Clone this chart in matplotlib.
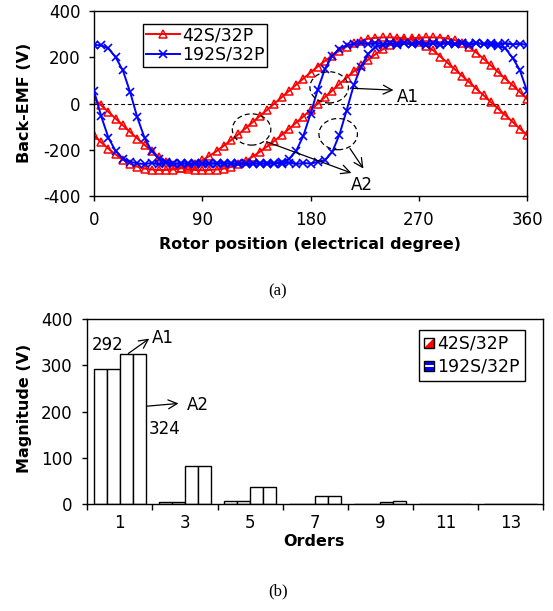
import numpy as np
import matplotlib
matplotlib.use("Agg")
import matplotlib.pyplot as plt
from matplotlib.patches import Ellipse, Rectangle, Polygon
from matplotlib.legend_handler import HandlerBase

plt.rcParams['font.family'] = ['DejaVu Sans']
plt.rcParams['axes.unicode_minus'] = False

# ---------------- data (a) ----------------
angle_deg = list(range(0, 361, 6))
emf_42_a = [21, -8, -36, -65, -94, -123, -151, -179, -206, -230, -251, -267, -278, -284, -287, -288,
            -287, -285, -281, -274, -263, -248, -229, -208, -185, -161, -136, -110, -83, -56, -28, 0,
            28, 56, 84, 112, 139, 165, 190, 213, 234, 252, 266, 276, 282, 285, 286, 286, 285, 281,
            274, 261, 243, 220, 193, 165, 136, 107, 79, 50, 21]
emf_42_b = [-138, -168, -195, -220, -242, -260, -273, -281, -285, -287, -287, -285, -280, -272, -260, -245,
            -226, -205, -182, -158, -133, -107, -80, -53, -27, 0, 27, 54, 81, 108, 134, 160,
            184, 207, 228, 246, 261, 272, 280, 284, 286, 286, 285, 282, 276, 266, 250, 230, 203, 176,
            148, 120, 92, 63, 35, 6, -22, -50, -79, -108, -136]
emf_192_a = [253, 252, 238, 200, 143, 50, -60, -148, -205, -238, -252, -258, -262, -256, -263, -256,
             -262, -255, -262, -256, -263, -256, -262, -256, -263, -256, -262, -255, -262, -256, -260, -252,
             -244, -210, -135, -30, 80, 160, 215, 243, 255, 260, 256, 263, 256, 262, 255, 262, 256, 263,
             256, 262, 255, 262, 256, 263, 256, 262, 255, 259, 253]
emf_192_b = [55, -55, -148, -205, -238, -252, -258, -262, -256, -263, -256, -262, -255, -262, -256, -263,
             -256, -262, -255, -262, -256, -263, -256, -262, -255, -260, -252, -240, -205, -140, -45, 60,
             150, 205, 237, 252, 257, 262, 256, 263, 256, 262, 255, 262, 256, 263, 256, 262, 255, 262,
             256, 263, 256, 262, 258, 255, 250, 238, 198, 145, 55]
x_ticks_a = [0, 90, 180, 270, 360]
y_ticks_a = [-400, -200, 0, 200, 400]

# ---------------- data (b) ----------------
orders = [1, 3, 5, 7, 9, 11, 13]
mag_42_1 = [292, 4, 8, 1, 0.5, 0.3, 0.5]
mag_42_2 = [292, 6, 8, 1, 0.5, 0.3, 0.5]
mag_192_1 = [324, 83, 37, 17, 6, 0.3, 1.5]
mag_192_2 = [324, 83, 38, 19, 7, 0.3, 1.5]
y_ticks_b = [0, 100, 200, 300, 400]

TICK_FS = 12
LAB_FS = 11.5

fig = plt.figure(figsize=(5.53, 6.11), dpi=100)

# =============== (a) =================
ax1 = fig.add_axes([0.170, 0.679, 0.783, 0.303])
ax1.axhline(0, color='black', lw=0.8, ls=(0, (3.5, 2.5)), zorder=1)
l1, = ax1.plot(angle_deg, emf_42_a, color='red', marker='^', mfc='none', ms=6.2, mew=1.1, lw=1.4,
               label='42S/32P', zorder=2)
ax1.plot(angle_deg, emf_42_b, color='red', marker='^', mfc='none', ms=6.2, mew=1.1, lw=1.4, zorder=2)
l2, = ax1.plot(angle_deg, emf_192_a, color='blue', marker='x', ms=5.5, mew=1.2, lw=1.4,
               label='192S/32P', zorder=3)
ax1.plot(angle_deg, emf_192_b, color='blue', marker='x', ms=5.5, mew=1.2, lw=1.4, zorder=3)
ax1.set_xlim(0, 360)
ax1.set_ylim(-400, 400)
ax1.set_xticks(x_ticks_a)
ax1.set_yticks(y_ticks_a)
ax1.tick_params(direction='out', length=3.5, width=1, labelsize=TICK_FS)
ax1.tick_params(axis='y', pad=6)
ax1.tick_params(axis='x', pad=7)
for s in ax1.spines.values():
    s.set_linewidth(1.0)

for (cx, cy) in [(131, -112), (195.5, 70), (203, -132)]:
    ax1.add_patch(Ellipse((cx, cy), 32, 135, fill=False, edgecolor='black', lw=0.9,
                          ls=(0, (4, 2.5)), zorder=4))
arr = dict(arrowstyle='->', lw=0.9, color='black', mutation_scale=16, shrinkA=0, shrinkB=0)
ax1.annotate('', xy=(249, 58), xytext=(215, 66), arrowprops=arr)
ax1.annotate('', xy=(214, -300), xytext=(143.5, -165), arrowprops=arr)
ax1.annotate('', xy=(224, -281), xytext=(212.8, -194), arrowprops=arr)
ax1.text(252, 30, 'A1', fontsize=12, ha='left', va='center')
ax1.text(223, -352, 'A2', fontsize=12, ha='center', va='center')

leg1 = ax1.legend(handles=[l1, l2], loc='upper left', bbox_to_anchor=(0.113, 0.93),
                  borderaxespad=0, fancybox=False, edgecolor='black', framealpha=1,
                  fontsize=12.5, handlelength=2.0, handletextpad=0.1, labelspacing=0.08,
                  borderpad=0.15)
leg1.get_frame().set_linewidth(1.0)

fig.text(0.045, 1 - 103 / 611, 'Back-EMF (V)', rotation=90, fontsize=LAB_FS, fontweight='bold',
         ha='center', va='center')
fig.text(310 / 553, 1 - 245 / 611, 'Rotor position (electrical degree)', fontsize=LAB_FS,
         fontweight='bold', ha='center', va='center')
fig.text(278 / 553, 1 - 291 / 611, '(a)', fontsize=12, family='Liberation Serif',
         ha='center', va='center')

# =============== (b) =================
ax2 = fig.add_axes([0.158, 0.1746, 0.824, 0.303])
pos = np.arange(len(orders)) + 0.5
w = 0.2
for off, vals in zip([-0.3, -0.1, 0.1, 0.3], [mag_42_1, mag_42_2, mag_192_1, mag_192_2]):
    ax2.bar(pos + off, vals, width=w, facecolor='white', edgecolor='black', lw=1.0, zorder=2)
ax2.set_xlim(0, len(orders))
ax2.set_ylim(0, 400)
ax2.set_yticks(y_ticks_b)
ax2.set_xticks(np.arange(len(orders) + 1))
ax2.set_xticklabels([])
ax2.set_xticks(pos, minor=True)
ax2.set_xticklabels([str(o) for o in orders], minor=True)
ax2.tick_params(axis='x', which='major', direction='out', length=4, width=1)
ax2.tick_params(axis='x', which='minor', length=0, pad=7, labelsize=TICK_FS)
ax2.tick_params(axis='y', direction='out', length=3.5, width=1, pad=7, labelsize=TICK_FS)
for s in ax2.spines.values():
    s.set_linewidth(1.0)

arr2 = dict(arrowstyle='->', lw=0.9, color='black', mutation_scale=16, shrinkA=0, shrinkB=0)
ax2.annotate('', xy=(0.95, 358), xytext=(0.63, 326), arrowprops=arr2)
ax2.annotate('', xy=(1.40, 218), xytext=(0.913, 212), arrowprops=arr2)
ax2.text(0.31, 344, '292', fontsize=12, ha='center', va='center')
ax2.text(0.99, 360, 'A1', fontsize=12, ha='left', va='center')
ax2.text(1.53, 214, 'A2', fontsize=12, ha='left', va='center')
ax2.text(1.19, 162, '324', fontsize=12, ha='center', va='center')


class SquareHandler(HandlerBase):
    def __init__(self, kind):
        super().__init__()
        self.kind = kind

    def create_artists(self, legend, orig_handle, xdescent, ydescent, width, height, fontsize, trans):
        s = height * 0.95
        x0 = -xdescent + (width - s) / 2
        y0 = -ydescent + (height - s) / 2
        arts = []
        if self.kind == 'diag':
            arts.append(Rectangle((x0, y0), s, s, facecolor='white', edgecolor='none', transform=trans))
            arts.append(Polygon([[x0, y0], [x0 + s, y0], [x0 + s, y0 + s]], closed=True,
                                facecolor='red', edgecolor='none', transform=trans))
        else:
            arts.append(Rectangle((x0, y0), s, s, facecolor='blue', edgecolor='none', transform=trans))
            arts.append(Rectangle((x0, y0 + s * 0.38), s, s * 0.24, facecolor='white',
                                  edgecolor='none', transform=trans))
        arts.append(Rectangle((x0, y0), s, s, facecolor='none', edgecolor='black', lw=1.0,
                              transform=trans))
        return arts


h1 = Rectangle((0, 0), 1, 1)
h2 = Rectangle((0, 0), 1, 1)
leg2 = ax2.legend([h1, h2], ['42S/32P', '192S/32P'], loc='upper left',
                  bbox_to_anchor=(0.727, 0.944), borderaxespad=0, fancybox=False,
                  edgecolor='black', framealpha=1, fontsize=12.5, handlelength=0.6,
                  handleheight=0.55, handletextpad=0.15, labelspacing=0.3, borderpad=0.3,
                  handler_map={h1: SquareHandler('diag'), h2: SquareHandler('stripe')})
leg2.get_frame().set_linewidth(1.0)

fig.text(0.045, 1 - 408 / 611, 'Magnitude (V)', rotation=90, fontsize=LAB_FS, fontweight='bold',
         ha='center', va='center')
fig.text(314 / 553, 1 - 542 / 611, 'Orders', fontsize=LAB_FS, fontweight='bold',
         ha='center', va='center')
fig.text(278 / 553, 1 - 591 / 611, '(b)', fontsize=12, family='Liberation Serif',
         ha='center', va='center')

fig.savefig('out.png', dpi=100)
